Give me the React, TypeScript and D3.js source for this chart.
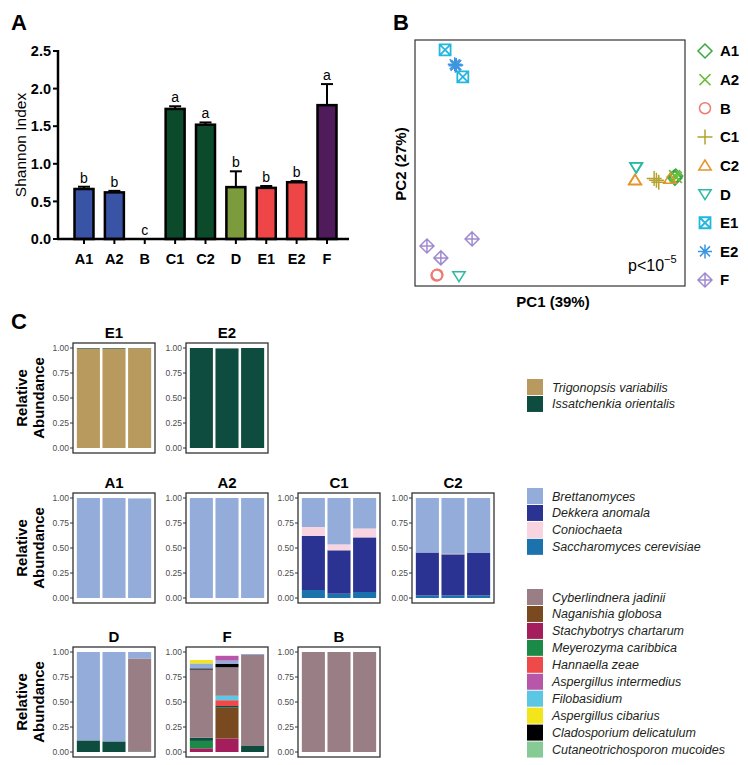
import React from 'react';
import * as d3 from 'd3';

// ---------- Panel A: Shannon index ----------
const shannonGroups = ['A1', 'A2', 'B', 'C1', 'C2', 'D', 'E1', 'E2', 'F'];
const shannonMeans = [0.665, 0.62, 0, 1.73, 1.52, 0.69, 0.68, 0.755, 1.78];
const shannonErr = [0.03, 0.02, 0, 0.035, 0.03, 0.21, 0.025, 0.015, 0.28];
const shannonLetters = ['b', 'b', 'c', 'a', 'a', 'b', 'b', 'b', 'a'];
const shannonColors = ['#3953a5', '#3953a5', '#3953a5', '#0b4a2b', '#0b4a2b', '#7c9b3d', '#ee4546', '#ee4546', '#4f1b5b'];
const shannonTicks = [0, 0.5, 1.0, 1.5, 2.0, 2.5];

// ---------- Panel B: PCoA ----------
const pcoaGroups = ['A1', 'A2', 'B', 'C1', 'C2', 'D', 'E1', 'E2', 'F'];
const pcoaColors = ['#3aa843', '#6cbd3c', '#ef7a72', '#b3a32e', '#e5942a', '#2bbaa4', '#22b6e0', '#3c95de', '#a08bd0'];
const pcoaShapes = ['diamond', 'x', 'circle', 'plus', 'triUp', 'triDown', 'squareX', 'asterisk', 'diamondPlus'];
const pcoaPoints: [string, number, number][] = [
  ['A1', 0.322, -0.040], ['A1', 0.326, -0.037], ['A1', 0.324, -0.043],
  ['A2', 0.325, -0.039], ['A2', 0.328, -0.041], ['A2', 0.323, -0.036],
  ['B', -0.293, -0.319], ['B', -0.292, -0.318], ['B', -0.294, -0.320],
  ['C1', 0.270, -0.044], ['C1', 0.282, -0.055], ['C1', 0.276, -0.049],
  ['C2', 0.220, -0.048], ['C2', 0.221, -0.049], ['C2', 0.311, -0.045],
  ['D', 0.223, -0.012], ['D', 0.224, -0.013], ['D', -0.236, -0.322],
  ['E1', -0.272, 0.322], ['E1', -0.226, 0.245],
  ['E2', -0.247, 0.281], ['E2', -0.245, 0.277], ['E2', -0.243, 0.279],
  ['F', -0.319, -0.236], ['F', -0.283, -0.270], ['F', -0.202, -0.216],
];

// ---------- Panel C: relative abundance ----------
const taxa = [
  'Trigonopsis variabilis', 'Issatchenkia orientalis',
  'Brettanomyces', 'Dekkera anomala', 'Coniochaeta', 'Saccharomyces cerevisiae',
  'Cyberlindnera jadinii', 'Naganishia globosa', 'Stachybotrys chartarum', 'Meyerozyma caribbica',
  'Hannaella zeae', 'Aspergillus intermedius', 'Filobasidium', 'Aspergillus cibarius',
  'Cladosporium delicatulum', 'Cutaneotrichosporon mucoides',
];
const taxaColors = [
  '#b8995e', '#0f4c40',
  '#93acd9', '#2a3392', '#f8d3e0', '#1b72ad',
  '#9a7e86', '#794a1f', '#a41d5c', '#1a8a46',
  '#ee4a4a', '#b857a9', '#5cc6e5', '#f2e51c',
  '#000000', '#86cb95',
];
const stackOrder = [
  'Stachybotrys chartarum', 'Meyerozyma caribbica', 'Naganishia globosa', 'Saccharomyces cerevisiae',
  'Trigonopsis variabilis', 'Issatchenkia orientalis', 'Hannaella zeae', 'Filobasidium',
  'Dekkera anomala', 'Coniochaeta', 'Cyberlindnera jadinii', 'Cladosporium delicatulum',
  'Cutaneotrichosporon mucoides', 'Brettanomyces', 'Aspergillus cibarius', 'Aspergillus intermedius',
];
const sampleIds = ['s1', 's2', 's3'];
const abundTicks = [0, 0.25, 0.5, 0.75, 1.0];

const abundE1: Record<string, number[]> = {
  'Trigonopsis variabilis': [0.994, 0.994, 0.998],
  'Issatchenkia orientalis': [0.006, 0.006, 0.002],
};
const abundE2: Record<string, number[]> = {
  'Issatchenkia orientalis': [1.0, 0.996, 1.0],
};
const abundA1: Record<string, number[]> = {
  'Dekkera anomala': [0, 0.004, 0],
  'Brettanomyces': [1.0, 0.996, 0.996],
};
const abundA2: Record<string, number[]> = {
  'Brettanomyces': [1.0, 1.0, 1.0],
};
const abundC1: Record<string, number[]> = {
  'Saccharomyces cerevisiae': [0.08, 0.043, 0.06],
  'Dekkera anomala': [0.54, 0.434, 0.546],
  'Coniochaeta': [0.09, 0.059, 0.089],
  'Brettanomyces': [0.29, 0.464, 0.305],
};
const abundC2: Record<string, number[]> = {
  'Saccharomyces cerevisiae': [0.025, 0.025, 0.025],
  'Dekkera anomala': [0.43, 0.41, 0.425],
  'Cyberlindnera jadinii': [0, 0.008, 0],
  'Brettanomyces': [0.545, 0.557, 0.55],
};
const abundD: Record<string, number[]> = {
  'Issatchenkia orientalis': [0.116, 0.106, 0.005],
  'Cyberlindnera jadinii': [0, 0, 0.93],
  'Brettanomyces': [0.884, 0.894, 0.065],
};
const abundF: Record<string, number[]> = {
  'Stachybotrys chartarum': [0.037, 0.134, 0],
  'Meyerozyma caribbica': [0.074, 0, 0],
  'Naganishia globosa': [0, 0.31, 0],
  'Issatchenkia orientalis': [0.033, 0.016, 0.06],
  'Hannaella zeae': [0, 0.058, 0],
  'Filobasidium': [0, 0.044, 0],
  'Cyberlindnera jadinii': [0.68, 0.285, 0.91],
  'Cladosporium delicatulum': [0.012, 0.033, 0],
  'Brettanomyces': [0.05, 0.034, 0.01],
  'Aspergillus cibarius': [0.034, 0, 0],
  'Aspergillus intermedius': [0, 0.048, 0],
};
const abundB: Record<string, number[]> = {
  'Cyberlindnera jadinii': [1.0, 1.0, 1.0],
};

const legendGroup1 = ['Trigonopsis variabilis', 'Issatchenkia orientalis'];
const legendGroup2 = ['Brettanomyces', 'Dekkera anomala', 'Coniochaeta', 'Saccharomyces cerevisiae'];
const legendGroup3 = [
  'Cyberlindnera jadinii', 'Naganishia globosa', 'Stachybotrys chartarum', 'Meyerozyma caribbica',
  'Hannaella zeae', 'Aspergillus intermedius', 'Filobasidium', 'Aspergillus cibarius',
  'Cladosporium delicatulum', 'Cutaneotrichosporon mucoides',
];

const FONT = '"Liberation Sans", Arial, sans-serif';
const taxonColor = d3.scaleOrdinal<string, string>().domain(taxa).range(taxaColors);
const pcoaColor = d3.scaleOrdinal<string, string>().domain(pcoaGroups).range(pcoaColors);
const pcoaShape = d3.scaleOrdinal<string, string>().domain(pcoaGroups).range(pcoaShapes);

function Marker({ shape, color, cx, cy }: { shape: string; color: string; cx: number; cy: number }) {
  const sw = 1.5;
  const common = { fill: 'none', stroke: color, strokeWidth: sw };
  const t = `translate(${cx},${cy})`;
  const diamond = 'M0,-7L7,0L0,7L-7,0Z';
  switch (shape) {
    case 'diamond':
      return <path transform={t} d={diamond} {...common} />;
    case 'x':
      return <path transform={t} d="M-5.5,-5.5L5.5,5.5M-5.5,5.5L5.5,-5.5" {...common} />;
    case 'circle':
      return <circle cx={cx} cy={cy} r={5.5} {...common} />;
    case 'plus':
      return <path transform={t} d="M-7.5,0L7.5,0M0,-7.5L0,7.5" {...common} />;
    case 'triUp':
      return <path transform={t} d="M0,-5.5L6.2,4.5L-6.2,4.5Z" {...common} />;
    case 'triDown':
      return <path transform={t} d="M0,5.5L6.2,-4.5L-6.2,-4.5Z" {...common} />;
    case 'squareX':
      return <path transform={t} d="M-5.5,-5.5H5.5V5.5H-5.5ZM-5.5,-5.5L5.5,5.5M-5.5,5.5L5.5,-5.5" {...common} strokeWidth={1.8} />;
    case 'asterisk':
      return <path transform={t} d="M-7,0L7,0M0,-7L0,7M-5,-5L5,5M-5,5L5,-5" {...common} />;
    case 'diamondPlus':
      return <path transform={t} d={diamond + 'M-7,0L7,0M0,-7L0,7'} {...common} />;
    default:
      return null;
  }
}

function PanelA() {
  const x = d3.scalePoint<string>().domain(shannonGroups).range([84, 327]);
  const y = d3.scaleLinear().domain([0, 2.5]).range([239, 51]);
  const bw = 19;
  return (
    <g fontFamily={FONT}>
      <text x={11} y={30} fontSize={22} fontWeight="bold">A</text>
      <text transform={`translate(26,145) rotate(-90)`} textAnchor="middle" fontSize={15.5}>Shannon Index</text>
      {shannonGroups.map((g, i) => {
        const cx = x(g)!;
        const top = y(shannonMeans[i]);
        const capY = y(shannonMeans[i] + shannonErr[i]);
        return (
          <g key={g}>
            {shannonMeans[i] > 0 && (
              <>
                <line x1={cx} x2={cx} y1={top} y2={capY} stroke="#000" strokeWidth={2} />
                <line x1={cx - 6} x2={cx + 6} y1={capY} y2={capY} stroke="#000" strokeWidth={2} />
                <rect x={cx - bw / 2} y={top} width={bw} height={y(0) - top} fill={shannonColors[i]} stroke="#000" strokeWidth={2.5} />
              </>
            )}
            <text x={cx} y={capY - 4} textAnchor="middle" fontSize={14}>{shannonLetters[i]}</text>
            <line x1={cx} x2={cx} y1={y(0)} y2={y(0) + 5} stroke="#000" strokeWidth={2} />
            <text x={cx} y={264} textAnchor="middle" fontSize={14.5} fontWeight="bold">{g}</text>
          </g>
        );
      })}
      <line x1={58} x2={58} y1={y(0)} y2={y(2.5) - 1} stroke="#000" strokeWidth={2.5} />
      <line x1={57} x2={349} y1={y(0)} y2={y(0)} stroke="#000" strokeWidth={2.5} />
      {shannonTicks.map((t) => (
        <g key={t}>
          <line x1={53} x2={58} y1={y(t)} y2={y(t)} stroke="#000" strokeWidth={2} />
          <text x={51} y={y(t)} dy="0.36em" textAnchor="end" fontSize={14.5} fontWeight="bold">{t.toFixed(1)}</text>
        </g>
      ))}
    </g>
  );
}

function PanelB() {
  const x = d3.scaleLinear().domain([-0.35, 0.35]).range([415, 685]);
  const y = d3.scaleLinear().domain([-0.35, 0.35]).range([286, 40]);
  const ly = d3.scalePoint<string>().domain(pcoaGroups).range([51, 280]);
  return (
    <g fontFamily={FONT}>
      <text x={393} y={30} fontSize={22} fontWeight="bold">B</text>
      <rect x={415} y={40} width={270} height={246} fill="none" stroke="#333" strokeWidth={1.2} />
      {pcoaPoints.map(([g, a, b], i) => (
        <Marker key={i} shape={pcoaShape(g)} color={pcoaColor(g)} cx={x(a)} cy={y(b)} />
      ))}
      <text x={628} y={271} fontSize={16}>p&lt;10<tspan dy={-8} fontSize={11}>−5</tspan></text>
      <text x={553} y={307} textAnchor="middle" fontSize={15} fontWeight="bold">PC1 (39%)</text>
      <text transform="translate(406,164) rotate(-90)" textAnchor="middle" fontSize={15} fontWeight="bold">PC2 (27%)</text>
      {pcoaGroups.map((g) => (
        <g key={g}>
          <Marker shape={pcoaShape(g)} color={pcoaColor(g)} cx={705} cy={ly(g)!} />
          <text x={720} y={ly(g)!} dy="0.36em" fontSize={15} fontWeight="bold">{g}</text>
        </g>
      ))}
    </g>
  );
}

function StackPanel({ title, data, left, top }: { title: string; data: Record<string, number[]>; left: number; top: number }) {
  const w = 82;
  const h = 110;
  const x = d3.scaleBand<string>().domain(sampleIds).range([left, left + w]).paddingInner(0.1).paddingOuter(0.15);
  const y = d3.scaleLinear().domain([-0.05, 1.05]).range([top + h, top]);
  const keys = stackOrder.filter((k) => data[k]);
  const rows = sampleIds.map((s, i) => {
    const r: Record<string, number> = {};
    keys.forEach((k) => (r[k] = data[k][i]));
    return r;
  });
  const series = d3.stack<Record<string, number>>().keys(keys)(rows);
  return (
    <g fontFamily={FONT}>
      {series.map((ser) =>
        ser.map((d, i) =>
          d[1] - d[0] > 0 ? (
            <rect key={ser.key + i} x={x(sampleIds[i])} width={x.bandwidth()} y={y(d[1])} height={y(d[0]) - y(d[1])} fill={taxonColor(ser.key)} />
          ) : null
        )
      )}
      <rect x={left} y={top} width={w} height={h} fill="none" stroke="#333" strokeWidth={1.3} />
      {abundTicks.map((t) => (
        <g key={t}>
          <line x1={left - 3} x2={left} y1={y(t)} y2={y(t)} stroke="#333" strokeWidth={1} />
          <text x={left - 4} y={y(t)} dy="0.35em" textAnchor="end" fontSize={8.5} fill="#4d4d4d">{t.toFixed(2)}</text>
        </g>
      ))}
      <text x={left + w / 2} y={top - 5} textAnchor="middle" fontSize={15} fontWeight="bold">{title}</text>
    </g>
  );
}

function RowTitle({ cy }: { cy: number }) {
  return (
    <g fontFamily={FONT} fontSize={15} fontWeight="bold">
      <text transform={`translate(27,${cy}) rotate(-90)`} textAnchor="middle">Relative</text>
      <text transform={`translate(44,${cy}) rotate(-90)`} textAnchor="middle">Abundance</text>
    </g>
  );
}

function Legend({ items, top }: { items: string[]; top: number }) {
  const yl = d3.scaleLinear().domain([0, 1]).range([top, top + 16.95]);
  return (
    <g fontFamily={FONT}>
      {items.map((it, i) => (
        <g key={it}>
          <rect x={527} y={yl(i) - 8} width={16} height={16} fill={taxonColor(it)} />
          <text x={552} y={yl(i)} dy="0.36em" fontSize={12.5} fontStyle="italic" fill="#231f20">{it}</text>
        </g>
      ))}
    </g>
  );
}

export default function App() {
  const cols = [73, 186, 298, 412];
  const rows = [343, 493, 647];
  return (
    <svg width={748} height={765} viewBox="0 0 748 765" style={{ position: 'absolute', left: 0, top: 0, background: '#fff' }}>
      <rect width={748} height={765} fill="#fff" />
      <PanelA />
      <PanelB />
      <text x={11} y={329} fontFamily={FONT} fontSize={22} fontWeight="bold">C</text>
      <RowTitle cy={rows[0] + 55} />
      <RowTitle cy={rows[1] + 55} />
      <RowTitle cy={rows[2] + 55} />
      <StackPanel title="E1" data={abundE1} left={cols[0]} top={rows[0]} />
      <StackPanel title="E2" data={abundE2} left={cols[1]} top={rows[0]} />
      <StackPanel title="A1" data={abundA1} left={cols[0]} top={rows[1]} />
      <StackPanel title="A2" data={abundA2} left={cols[1]} top={rows[1]} />
      <StackPanel title="C1" data={abundC1} left={cols[2]} top={rows[1]} />
      <StackPanel title="C2" data={abundC2} left={cols[3]} top={rows[1]} />
      <StackPanel title="D" data={abundD} left={cols[0]} top={rows[2]} />
      <StackPanel title="F" data={abundF} left={cols[1]} top={rows[2]} />
      <StackPanel title="B" data={abundB} left={cols[2]} top={rows[2]} />
      <Legend items={legendGroup1} top={387} />
      <Legend items={legendGroup2} top={496} />
      <Legend items={legendGroup3} top={597} />
    </svg>
  );
}
